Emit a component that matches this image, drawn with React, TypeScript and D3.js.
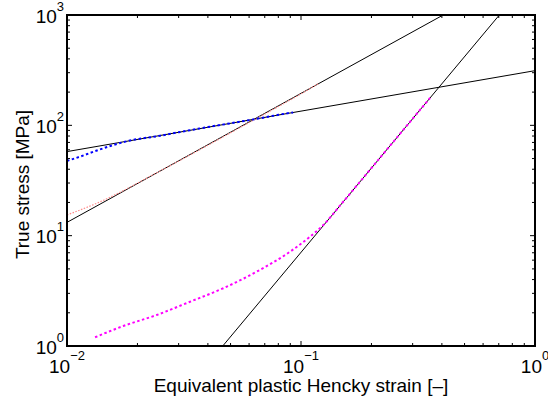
import React from "react";
import * as d3 from "d3";

const W = 548;
const H = 403;

// Fitted power-law lines (endpoints in data units: [strain, stress])
const fitLow: [number, number][] = [[0.01, 57.8], [1, 313]];
const fitMid: [number, number][] = [[0.01, 13.2], [0.405, 1000]];
const fitHigh: [number, number][] = [[0.0463, 1], [0.704, 1000]];

// Measured curves
const blueStrain = [0.01, 0.01136, 0.01384, 0.01803, 0.025, 0.03, 0.04, 0.05, 0.06, 0.07, 0.08, 0.0925];
const blueStress = [47.6, 52.0, 60.5, 71.8, 80.5, 86.5, 96.5, 104.4, 111.5, 118, 124.5, 131];

const redStrain = [0.01, 0.0138, 0.0257, 0.04, 0.06, 0.08, 0.1, 0.1183];
const redStress = [15.4, 20.2, 39.8, 66, 106, 148, 193, 238];

const magStrain = [0.01318, 0.01741, 0.02417, 0.03357, 0.04656, 0.0647, 0.0898, 0.1093, 0.1246, 0.15, 0.2, 0.25, 0.3, 0.356];
const magStress = [1.2, 1.518, 1.91, 2.52, 3.34, 4.72, 7.16, 9.79, 12.5, 19.8, 41.0, 72.3, 114.8, 177];

const xTicks = [0.01, 0.1, 1];
const xTickExp = ["\u22122", "\u22121", "0"];
const yTicks = [1, 10, 100, 1000];
const yTickExp = ["0", "1", "2", "3"];

const xLabel = "Equivalent plastic Hencky strain [\u2013]";
const yLabel = "True stress [MPa]";

const L = 67, R = 535, T = 15, B = 346;
const FONT = "'Liberation Sans', Arial, Helvetica, sans-serif";

export default function App() {
  const x = d3.scaleLog().domain([0.01, 1]).range([L, R]);
  const y = d3.scaleLog().domain([1, 1000]).range([B, T]);
  const line = d3.line<[number, number]>().x((d) => x(d[0])).y((d) => y(d[1]));
  const curve = d3
    .line<[number, number]>()
    .curve(d3.curveMonotoneX)
    .x((d) => x(d[0]))
    .y((d) => y(d[1]));

  const zip = (a: number[], b: number[]) => a.map((v, i) => [v, b[i]] as [number, number]);

  const minorX: number[] = [];
  for (let e = -2; e < 0; e++) for (let k = 2; k <= 9; k++) minorX.push(k * Math.pow(10, e));
  const minorY: number[] = [];
  for (let e = 0; e < 3; e++) for (let k = 2; k <= 9; k++) minorY.push(k * Math.pow(10, e));

  const maj = 5, mnr = 3;

  return (
    <svg width={W} height={H} style={{ position: "absolute", left: 0, top: 0, background: "#fff" }} fontFamily={FONT}>
      <defs>
        <clipPath id="plot">
          <rect x={L} y={T} width={R - L} height={B - T} />
        </clipPath>
      </defs>
      <rect x={0} y={0} width={W} height={H} fill="#fff" />
      <g clipPath="url(#plot)" fill="none">
        {[fitLow, fitMid, fitHigh].map((d, i) => (
          <path key={i} d={line(d) || ""} stroke="#000" strokeWidth={1} />
        ))}
        <path d={curve(zip(redStrain, redStress)) || ""} stroke="#ff8a8a" strokeWidth={1.2} strokeDasharray="1.5 1.5" />
        <path d={curve(zip(blueStrain, blueStress)) || ""} stroke="#0000ff" strokeWidth={2} strokeDasharray="2.5 2.5" />
        <path d={curve(zip(magStrain, magStress)) || ""} stroke="#ff00ff" strokeWidth={2} strokeDasharray="2.5 2.5" />
      </g>
      {/* ticks */}
      <g stroke="#000" strokeWidth={1}>
        {xTicks.map((t, i) => (
          <g key={"xt" + i}>
            <line x1={x(t)} x2={x(t)} y1={B} y2={B - maj} />
            <line x1={x(t)} x2={x(t)} y1={T} y2={T + maj} />
          </g>
        ))}
        {minorX.map((t, i) => (
          <g key={"xm" + i}>
            <line x1={x(t)} x2={x(t)} y1={B} y2={B - mnr} />
            <line x1={x(t)} x2={x(t)} y1={T} y2={T + mnr} />
          </g>
        ))}
        {yTicks.map((t, i) => (
          <g key={"yt" + i}>
            <line x1={L} x2={L + maj} y1={y(t)} y2={y(t)} />
            <line x1={R} x2={R - maj} y1={y(t)} y2={y(t)} />
          </g>
        ))}
        {minorY.map((t, i) => (
          <g key={"ym" + i}>
            <line x1={L} x2={L + mnr} y1={y(t)} y2={y(t)} />
            <line x1={R} x2={R - mnr} y1={y(t)} y2={y(t)} />
          </g>
        ))}
      </g>
      <rect x={L} y={T} width={R - L} height={B - T} fill="none" stroke="#000" strokeWidth={2} />
      {/* x tick labels */}
      {xTicks.map((t, i) => (
        <text key={"xl" + i} x={x(t)} y={B + 27} textAnchor="middle" fontSize={19} fill="#000">
          10
          <tspan fontSize={13} dy={-13}>{xTickExp[i]}</tspan>
        </text>
      ))}
      {/* y tick labels */}
      {yTicks.map((t, i) => (
        <text key={"yl" + i} x={L - 3} y={y(t) + 7.5} textAnchor="end" fontSize={19} fill="#000">
          10
          <tspan fontSize={13} dy={-12}>{yTickExp[i]}</tspan>
        </text>
      ))}
      <text x={(L + R) / 2} y={392} textAnchor="middle" fontSize={19} fill="#000">
        {xLabel}
      </text>
      <text transform={`translate(29,${(T + B) / 2 + 4}) rotate(-90)`} textAnchor="middle" fontSize={19} fill="#000">
        {yLabel}
      </text>
    </svg>
  );
}
